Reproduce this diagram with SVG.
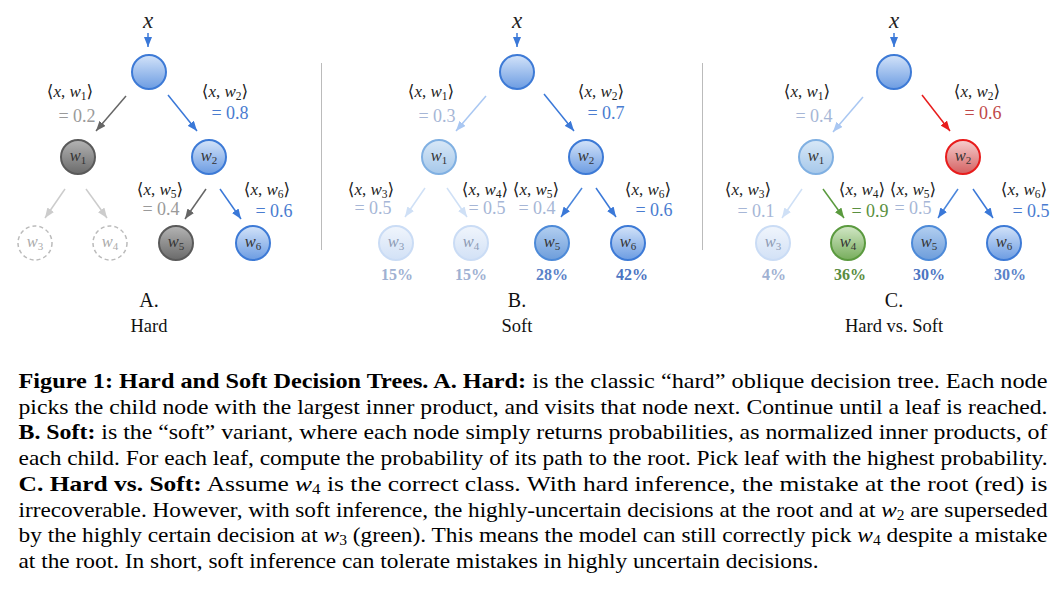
<svg xmlns="http://www.w3.org/2000/svg" width="1063" height="590" viewBox="0 0 1063 590">
<style>
.m{font-family:"Liberation Serif","DejaVu Serif",serif;fill:#222}
.lab{font-size:17px}
.val{font-size:18px}
.i{font-style:italic}
.nt{font-family:"Liberation Serif","DejaVu Serif",serif;font-size:16.5px;font-style:italic;fill:#333;text-anchor:middle}
.pct{font-family:"Liberation Serif","DejaVu Serif",serif;font-size:16px;font-weight:bold;text-anchor:middle}
.ttl{font-family:"Liberation Serif",serif;fill:#111;text-anchor:middle}
.cap{font-family:"Liberation Serif","Times New Roman",serif;font-size:21px;fill:#000}
.b{font-weight:bold}
.e{stroke-width:1.5;fill:none}
.n{stroke-width:2}
</style>
<defs>
<linearGradient id="gBlue" x1="0" y1="0" x2="0" y2="1"><stop offset="0" stop-color="#d3e3f9"/><stop offset="1" stop-color="#6c9ce2"/></linearGradient>
<linearGradient id="gGray" x1="0" y1="0" x2="0" y2="1"><stop offset="0" stop-color="#b4b4b4"/><stop offset="1" stop-color="#6a6a6a"/></linearGradient>
<linearGradient id="gLight" x1="0" y1="0" x2="0" y2="1"><stop offset="0" stop-color="#d8e8f7"/><stop offset="1" stop-color="#a6c8ea"/></linearGradient>
<linearGradient id="gVLight" x1="0" y1="0" x2="0" y2="1"><stop offset="0" stop-color="#f0f5fc"/><stop offset="1" stop-color="#d2e1f6"/></linearGradient>
<linearGradient id="gMid" x1="0" y1="0" x2="0" y2="1"><stop offset="0" stop-color="#b3cff0"/><stop offset="1" stop-color="#6d9ddb"/></linearGradient>
<linearGradient id="gRed" x1="0" y1="0" x2="0" y2="1"><stop offset="0" stop-color="#f6cfcf"/><stop offset="1" stop-color="#d46060"/></linearGradient>
<linearGradient id="gGreen" x1="0" y1="0" x2="0" y2="1"><stop offset="0" stop-color="#d2e7c6"/><stop offset="1" stop-color="#77ad5c"/></linearGradient>
<marker id="aBlue" markerUnits="userSpaceOnUse" markerWidth="10" markerHeight="8" refX="10" refY="4" orient="auto"><path d="M0,0 L10,4 L0,8 z" fill="#3a78d8"/></marker>
<marker id="aDark" markerUnits="userSpaceOnUse" markerWidth="10" markerHeight="8" refX="10" refY="4" orient="auto"><path d="M0,0 L10,4 L0,8 z" fill="#666"/></marker>
<marker id="aGray" markerUnits="userSpaceOnUse" markerWidth="10" markerHeight="8" refX="10" refY="4" orient="auto"><path d="M0,0 L10,4 L0,8 z" fill="#cccccc"/></marker>
<marker id="aLight" markerUnits="userSpaceOnUse" markerWidth="10" markerHeight="8" refX="10" refY="4" orient="auto"><path d="M0,0 L10,4 L0,8 z" fill="#a9c7f2"/></marker>
<marker id="aVLight" markerUnits="userSpaceOnUse" markerWidth="10" markerHeight="8" refX="10" refY="4" orient="auto"><path d="M0,0 L10,4 L0,8 z" fill="#cfe0f6"/></marker>
<marker id="aRed" markerUnits="userSpaceOnUse" markerWidth="10" markerHeight="8" refX="10" refY="4" orient="auto"><path d="M0,0 L10,4 L0,8 z" fill="#e81c1c"/></marker>
<marker id="aGreen" markerUnits="userSpaceOnUse" markerWidth="10" markerHeight="8" refX="10" refY="4" orient="auto"><path d="M0,0 L10,4 L0,8 z" fill="#5a9a3e"/></marker>
</defs>
<rect width="1063" height="590" fill="#fff"/>

<!-- dividers -->
<g id="dividers" stroke="#bbb" stroke-width="1">
<line x1="321.5" y1="63" x2="321.5" y2="250"/>
<line x1="702.5" y1="63" x2="702.5" y2="250"/>
</g>

<!-- connectors -->
<g id="connectors">
<!-- A -->
<line class="e" x1="148" y1="33" x2="148" y2="47" stroke="#3a78d8" marker-end="url(#aBlue)"/>
<line class="e" x1="126" y1="96" x2="96" y2="131" stroke="#666" marker-end="url(#aDark)"/>
<line class="e" x1="168" y1="95" x2="197" y2="131" stroke="#3a78d8" marker-end="url(#aBlue)"/>
<line class="e" x1="65" y1="189" x2="45" y2="218" stroke="#cccccc" marker-end="url(#aGray)"/>
<line class="e" x1="86" y1="189" x2="107" y2="218" stroke="#cccccc" marker-end="url(#aGray)"/>
<line class="e" x1="206" y1="189" x2="185" y2="219" stroke="#666" marker-end="url(#aDark)"/>
<line class="e" x1="220" y1="189" x2="241" y2="219" stroke="#3a78d8" marker-end="url(#aBlue)"/>
<!-- B -->
<line class="e" x1="517" y1="33" x2="517" y2="47" stroke="#3a78d8" marker-end="url(#aBlue)"/>
<line class="e" x1="486" y1="96" x2="456" y2="131" stroke="#a9c7f2" marker-end="url(#aLight)"/>
<line class="e" x1="544" y1="94" x2="574" y2="131" stroke="#3a78d8" marker-end="url(#aBlue)"/>
<line class="e" x1="425" y1="188" x2="405" y2="217" stroke="#cfe0f6" marker-end="url(#aVLight)"/>
<line class="e" x1="447" y1="188" x2="467" y2="217" stroke="#cfe0f6" marker-end="url(#aVLight)"/>
<line class="e" x1="582" y1="188" x2="561" y2="217" stroke="#4a86dc" marker-end="url(#aBlue)"/>
<line class="e" x1="596" y1="188" x2="616" y2="217" stroke="#3a78d8" marker-end="url(#aBlue)"/>
<!-- C -->
<line class="e" x1="894" y1="33" x2="894" y2="47" stroke="#3a78d8" marker-end="url(#aBlue)"/>
<line class="e" x1="863" y1="97" x2="833" y2="132" stroke="#a9c7f2" marker-end="url(#aLight)"/>
<line class="e" x1="922" y1="95" x2="950" y2="131" stroke="#e81c1c" marker-end="url(#aRed)"/>
<line class="e" x1="802" y1="189" x2="782" y2="218" stroke="#cfe0f6" marker-end="url(#aVLight)"/>
<line class="e" x1="823" y1="189" x2="844" y2="218" stroke="#5a9a3e" marker-end="url(#aGreen)"/>
<line class="e" x1="958" y1="189" x2="938" y2="218" stroke="#4a86dc" marker-end="url(#aBlue)"/>
<line class="e" x1="973" y1="189" x2="993" y2="218" stroke="#3a78d8" marker-end="url(#aBlue)"/>
</g>

<!-- ===== Panel A ===== -->
<g id="A-x"><text class="m i" x="148" y="28" font-size="23" text-anchor="middle">x</text></g>
<g id="A-root"><circle class="n" cx="149" cy="72" r="17" fill="url(#gBlue)" stroke="#3d7ad6"/></g>
<g id="A-w1"><circle class="n" cx="78" cy="157" r="17" fill="url(#gGray)" stroke="#5a5a5a"/><text class="nt" x="78" y="161">w<tspan font-size="11" dy="3" font-style="normal">1</tspan></text></g>
<g id="A-w2"><circle class="n" cx="209" cy="157" r="17" fill="url(#gBlue)" stroke="#3d7ad6"/><text class="nt" x="209" y="161">w<tspan font-size="11" dy="3" font-style="normal">2</tspan></text></g>
<g id="A-w3"><circle cx="35" cy="243" r="17" fill="#fff" stroke="#bbb" stroke-width="1.5" stroke-dasharray="4 3"/><text class="nt" x="35" y="247" style="fill:#aaa">w<tspan font-size="11" dy="3" font-style="normal">3</tspan></text></g>
<g id="A-w4"><circle cx="110" cy="243" r="17" fill="#fff" stroke="#bbb" stroke-width="1.5" stroke-dasharray="4 3"/><text class="nt" x="110" y="247" style="fill:#aaa">w<tspan font-size="11" dy="3" font-style="normal">4</tspan></text></g>
<g id="A-w5"><circle class="n" cx="176" cy="243" r="17" fill="url(#gGray)" stroke="#5a5a5a"/><text class="nt" x="176" y="247">w<tspan font-size="11" dy="3" font-style="normal">5</tspan></text></g>
<g id="A-w6"><circle class="n" cx="253" cy="243" r="17" fill="url(#gBlue)" stroke="#3d7ad6"/><text class="nt" x="253" y="247">w<tspan font-size="11" dy="3" font-style="normal">6</tspan></text></g>
<g id="A-labels">
<text class="m lab" x="70" y="97" text-anchor="middle">⟨<tspan class="i">x</tspan>, <tspan class="i">w</tspan><tspan font-size="11.5" dy="3">1</tspan><tspan dy="-3">⟩</tspan></text>
<text class="m val" x="77" y="122" text-anchor="middle" style="fill:#9a9a9a">= 0.2</text>
<text class="m lab" x="225" y="97" text-anchor="middle">⟨<tspan class="i">x</tspan>, <tspan class="i">w</tspan><tspan font-size="11.5" dy="3">2</tspan><tspan dy="-3">⟩</tspan></text>
<text class="m val" x="230" y="119" text-anchor="middle" style="fill:#4a7cd0">= 0.8</text>
<text class="m lab" x="160" y="195" text-anchor="middle">⟨<tspan class="i">x</tspan>, <tspan class="i">w</tspan><tspan font-size="11.5" dy="3">5</tspan><tspan dy="-3">⟩</tspan></text>
<text class="m val" x="161" y="215" text-anchor="middle" style="fill:#9a9a9a">= 0.4</text>
<text class="m lab" x="267" y="195" text-anchor="middle">⟨<tspan class="i">x</tspan>, <tspan class="i">w</tspan><tspan font-size="11.5" dy="3">6</tspan><tspan dy="-3">⟩</tspan></text>
<text class="m val" x="274" y="217" text-anchor="middle" style="fill:#4a7cd0">= 0.6</text>
<text class="ttl" x="149" y="307" font-size="20">A.</text>
<text class="ttl" x="149" y="332" font-size="18.5">Hard</text>
</g>

<!-- ===== Panel B ===== -->
<g id="B-x"><text class="m i" x="517" y="28" font-size="23" text-anchor="middle">x</text></g>
<g id="B-root"><circle class="n" cx="517" cy="72" r="17" fill="url(#gBlue)" stroke="#3d7ad6"/></g>
<g id="B-w1"><circle class="n" cx="439" cy="157" r="17" fill="url(#gLight)" stroke="#80b0e2"/><text class="nt" x="439" y="161">w<tspan font-size="11" dy="3" font-style="normal">1</tspan></text></g>
<g id="B-w2"><circle class="n" cx="586" cy="157" r="17" fill="url(#gBlue)" stroke="#3d7ad6"/><text class="nt" x="586" y="161">w<tspan font-size="11" dy="3" font-style="normal">2</tspan></text></g>
<g id="B-w3"><circle class="n" cx="396" cy="243" r="17" fill="url(#gVLight)" stroke="#cadcf5"/><text class="nt" x="396" y="247" style="fill:#8c9ab4">w<tspan font-size="11" dy="3" font-style="normal">3</tspan></text></g>
<g id="B-w4"><circle class="n" cx="471" cy="243" r="17" fill="url(#gVLight)" stroke="#cadcf5"/><text class="nt" x="471" y="247" style="fill:#8c9ab4">w<tspan font-size="11" dy="3" font-style="normal">4</tspan></text></g>
<g id="B-w5"><circle class="n" cx="552" cy="243" r="17" fill="url(#gMid)" stroke="#4d8ad8"/><text class="nt" x="552" y="247">w<tspan font-size="11" dy="3" font-style="normal">5</tspan></text></g>
<g id="B-w6"><circle class="n" cx="628" cy="243" r="17" fill="url(#gBlue)" stroke="#3d7ad6"/><text class="nt" x="628" y="247">w<tspan font-size="11" dy="3" font-style="normal">6</tspan></text></g>
<g id="B-labels">
<text class="m lab" x="431" y="97" text-anchor="middle">⟨<tspan class="i">x</tspan>, <tspan class="i">w</tspan><tspan font-size="11.5" dy="3">1</tspan><tspan dy="-3">⟩</tspan></text>
<text class="m val" x="437" y="122" text-anchor="middle" style="fill:#a6b6d6">= 0.3</text>
<text class="m lab" x="601" y="97" text-anchor="middle">⟨<tspan class="i">x</tspan>, <tspan class="i">w</tspan><tspan font-size="11.5" dy="3">2</tspan><tspan dy="-3">⟩</tspan></text>
<text class="m val" x="606" y="119" text-anchor="middle" style="fill:#4a7cd0">= 0.7</text>
<text class="m lab" x="371" y="195" text-anchor="middle">⟨<tspan class="i">x</tspan>, <tspan class="i">w</tspan><tspan font-size="11.5" dy="3">3</tspan><tspan dy="-3">⟩</tspan></text>
<text class="m val" x="373" y="214" text-anchor="middle" style="fill:#a6b6d6">= 0.5</text>
<text class="m lab" x="485" y="195" text-anchor="middle">⟨<tspan class="i">x</tspan>, <tspan class="i">w</tspan><tspan font-size="11.5" dy="3">4</tspan><tspan dy="-3">⟩</tspan></text>
<text class="m val" x="487" y="214" text-anchor="middle" style="fill:#a6b6d6">= 0.5</text>
<text class="m lab" x="536" y="195" text-anchor="middle">⟨<tspan class="i">x</tspan>, <tspan class="i">w</tspan><tspan font-size="11.5" dy="3">5</tspan><tspan dy="-3">⟩</tspan></text>
<text class="m val" x="537" y="214" text-anchor="middle" style="fill:#a6b6d6">= 0.4</text>
<text class="m lab" x="648" y="195" text-anchor="middle">⟨<tspan class="i">x</tspan>, <tspan class="i">w</tspan><tspan font-size="11.5" dy="3">6</tspan><tspan dy="-3">⟩</tspan></text>
<text class="m val" x="654" y="216" text-anchor="middle" style="fill:#4a7cd0">= 0.6</text>
<text class="pct" x="397" y="280" fill="#9fb1d2">15%</text>
<text class="pct" x="471" y="280" fill="#9fb1d2">15%</text>
<text class="pct" x="552" y="280" fill="#5b82c8">28%</text>
<text class="pct" x="632" y="280" fill="#4c74c2">42%</text>
<text class="ttl" x="517" y="307" font-size="20">B.</text>
<text class="ttl" x="517" y="332" font-size="18.5">Soft</text>
</g>

<!-- ===== Panel C ===== -->
<g id="C-x"><text class="m i" x="894" y="28" font-size="23" text-anchor="middle">x</text></g>
<g id="C-root"><circle class="n" cx="894" cy="72" r="17" fill="url(#gBlue)" stroke="#3d7ad6"/></g>
<g id="C-w1"><circle class="n" cx="816" cy="157" r="17" fill="url(#gLight)" stroke="#80b0e2"/><text class="nt" x="816" y="161">w<tspan font-size="11" dy="3" font-style="normal">1</tspan></text></g>
<g id="C-w2"><circle class="n" cx="963" cy="157" r="17" fill="url(#gRed)" stroke="#e81c1c"/><text class="nt" x="963" y="161">w<tspan font-size="11" dy="3" font-style="normal">2</tspan></text></g>
<g id="C-w3"><circle class="n" cx="773" cy="243" r="17" fill="url(#gVLight)" stroke="#cadcf5"/><text class="nt" x="773" y="247" style="fill:#8c9ab4">w<tspan font-size="11" dy="3" font-style="normal">3</tspan></text></g>
<g id="C-w4"><circle class="n" cx="848" cy="243" r="17" fill="url(#gGreen)" stroke="#5b9a3f"/><text class="nt" x="848" y="247">w<tspan font-size="11" dy="3" font-style="normal">4</tspan></text></g>
<g id="C-w5"><circle class="n" cx="929" cy="243" r="17" fill="url(#gMid)" stroke="#4d8ad8"/><text class="nt" x="929" y="247">w<tspan font-size="11" dy="3" font-style="normal">5</tspan></text></g>
<g id="C-w6"><circle class="n" cx="1004" cy="243" r="17" fill="url(#gBlue)" stroke="#3d7ad6"/><text class="nt" x="1004" y="247">w<tspan font-size="11" dy="3" font-style="normal">6</tspan></text></g>
<g id="C-labels">
<text class="m lab" x="807" y="97" text-anchor="middle">⟨<tspan class="i">x</tspan>, <tspan class="i">w</tspan><tspan font-size="11.5" dy="3">1</tspan><tspan dy="-3">⟩</tspan></text>
<text class="m val" x="814" y="122" text-anchor="middle" style="fill:#a6b6d6">= 0.4</text>
<text class="m lab" x="977" y="97" text-anchor="middle">⟨<tspan class="i">x</tspan>, <tspan class="i">w</tspan><tspan font-size="11.5" dy="3">2</tspan><tspan dy="-3">⟩</tspan></text>
<text class="m val" x="983" y="119" text-anchor="middle" style="fill:#c04848">= 0.6</text>
<text class="m lab" x="748" y="195" text-anchor="middle">⟨<tspan class="i">x</tspan>, <tspan class="i">w</tspan><tspan font-size="11.5" dy="3">3</tspan><tspan dy="-3">⟩</tspan></text>
<text class="m val" x="756" y="217" text-anchor="middle" style="fill:#a6b6d6">= 0.1</text>
<text class="m lab" x="862" y="195" text-anchor="middle">⟨<tspan class="i">x</tspan>, <tspan class="i">w</tspan><tspan font-size="11.5" dy="3">4</tspan><tspan dy="-3">⟩</tspan></text>
<text class="m val" x="870" y="217" text-anchor="middle" style="fill:#5a9040">= 0.9</text>
<text class="m lab" x="913" y="195" text-anchor="middle">⟨<tspan class="i">x</tspan>, <tspan class="i">w</tspan><tspan font-size="11.5" dy="3">5</tspan><tspan dy="-3">⟩</tspan></text>
<text class="m val" x="913" y="214" text-anchor="middle" style="fill:#a6b6d6">= 0.5</text>
<text class="m lab" x="1024" y="195" text-anchor="middle">⟨<tspan class="i">x</tspan>, <tspan class="i">w</tspan><tspan font-size="11.5" dy="3">6</tspan><tspan dy="-3">⟩</tspan></text>
<text class="m val" x="1031" y="217" text-anchor="middle" style="fill:#4a7cd0">= 0.5</text>
<text class="pct" x="774" y="280" fill="#9fb1d2">4%</text>
<text class="pct" x="850" y="280" fill="#5a8c40">36%</text>
<text class="pct" x="929" y="280" fill="#4c74c2">30%</text>
<text class="pct" x="1010" y="280" fill="#5b82c8">30%</text>
<text class="ttl" x="894" y="307" font-size="20">C.</text>
<text class="ttl" x="894" y="332" font-size="18.5">Hard vs. Soft</text>
</g>

<!-- ===== Caption ===== -->
<g id="caption" class="cap">
<text class="cap" x="18.5" y="388" textLength="1029" lengthAdjust="spacingAndGlyphs"><tspan class="b">Figure 1: Hard and Soft Decision Trees.  A. Hard:</tspan> is the classic “hard” oblique decision tree.  Each node</text>
<text class="cap" x="18.5" y="413.7" textLength="1029" lengthAdjust="spacingAndGlyphs">picks the child node with the largest inner product, and visits that node next. Continue until a leaf is reached.</text>
<text class="cap" x="18.5" y="439.4" textLength="1029" lengthAdjust="spacingAndGlyphs"><tspan class="b">B. Soft:</tspan> is the “soft” variant, where each node simply returns probabilities, as normalized inner products, of</text>
<text class="cap" x="18.5" y="465.1" textLength="1029" lengthAdjust="spacingAndGlyphs">each child. For each leaf, compute the probability of its path to the root. Pick leaf with the highest probability.</text>
<text class="cap" x="18.5" y="490.8" textLength="1029" lengthAdjust="spacingAndGlyphs"><tspan class="b">C. Hard vs.  Soft:</tspan>  Assume <tspan class="i">w</tspan><tspan font-size="14" dy="3">4</tspan><tspan dy="-3"> is the correct class.  With hard inference, the mistake at the root (red) is</tspan></text>
<text class="cap" x="18.5" y="516.5" textLength="1029" lengthAdjust="spacingAndGlyphs">irrecoverable. However, with soft inference, the highly-uncertain decisions at the root and at <tspan class="i">w</tspan><tspan font-size="14" dy="3">2</tspan><tspan dy="-3"> are superseded</tspan></text>
<text class="cap" x="18.5" y="542.2" textLength="1029" lengthAdjust="spacingAndGlyphs">by the highly certain decision at <tspan class="i">w</tspan><tspan font-size="14" dy="3">3</tspan><tspan dy="-3"> (green). This means the model can still correctly pick </tspan><tspan class="i">w</tspan><tspan font-size="14" dy="3">4</tspan><tspan dy="-3"> despite a mistake</tspan></text>
<text class="cap" x="18.5" y="567.9" textLength="800" lengthAdjust="spacingAndGlyphs">at the root. In short, soft inference can tolerate mistakes in highly uncertain decisions.</text>
</g>
</svg>
